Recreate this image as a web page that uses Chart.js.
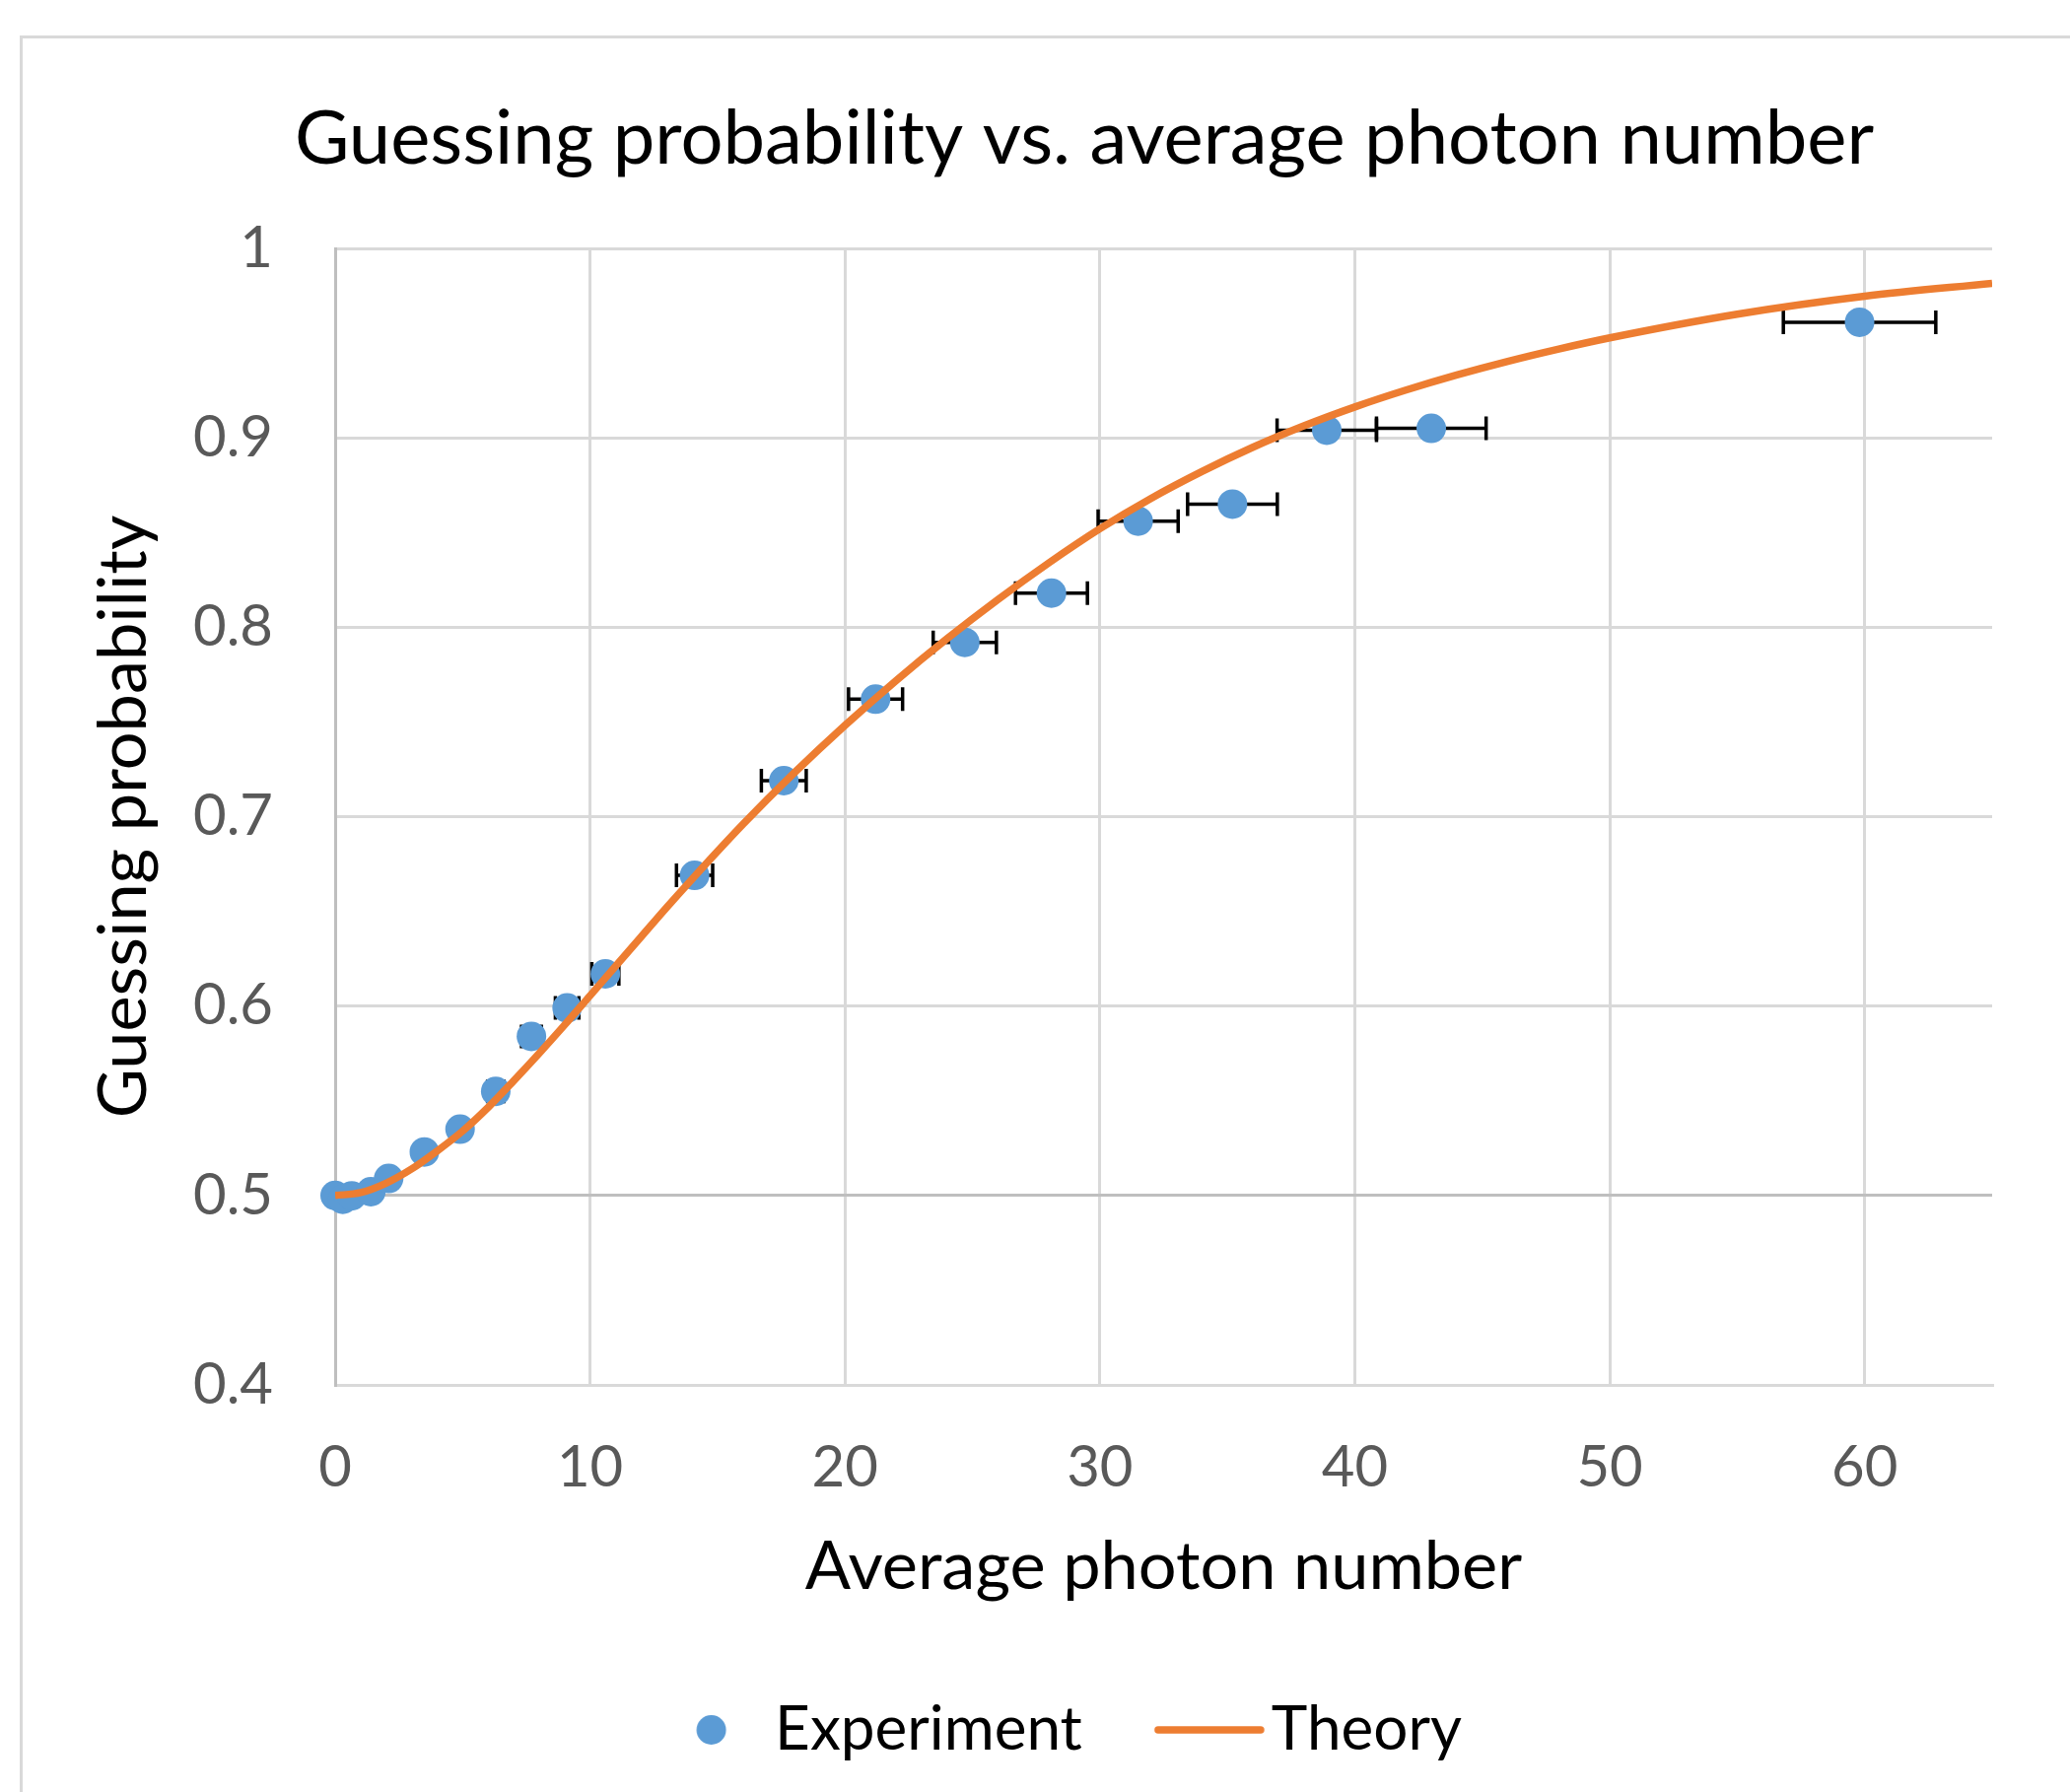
<!DOCTYPE html>
<html>
  <head>
    <script src="https://cdn.jsdelivr.net/npm/chart.js@4.4.0/dist/chart.umd.min.js"></script>
    <style>
      html, body { margin: 0; padding: 0; background: #fff; overflow: hidden; }
      #card { position: absolute; left: 20px; top: 36px; width: 3000px; height: 3000px;
              border: 3px solid #d9d9d9; box-sizing: border-box; }
      #myChart { position: absolute; left: 0; top: 0; }
    </style>
  </head>
  <body>
    <div id="card"></div>
    <canvas id="myChart" width="2100" height="1818"></canvas>
    <script>
      // experiment points
      var expX = [0, 0.3, 0.65, 1.4, 2.1, 3.5, 4.9, 6.3, 7.7, 9.1, 10.6, 14.1, 17.6, 21.2, 24.7, 28.1, 31.5, 35.2, 38.9, 43.0, 59.8];
      var expY = [0.500, 0.498, 0.4998, 0.502, 0.509, 0.523, 0.535, 0.555, 0.584, 0.599, 0.617, 0.669, 0.719, 0.762, 0.792, 0.818, 0.856, 0.865, 0.904, 0.905, 0.961];
      // horizontal error (half width of the bars)
      var expErr = [0, 0.015, 0.03, 0.07, 0.1, 0.18, 0.25, 0.32, 0.39, 0.46, 0.53, 0.71, 0.88, 1.06, 1.24, 1.41, 1.57, 1.76, 1.95, 2.15, 2.99];

      // theory curve
      var theoryX = [0, 1, 2, 3, 4, 5, 6, 7, 8, 9, 10, 11, 12, 13, 14, 16, 18, 20, 22, 24, 26, 28, 30, 32, 34, 36, 38, 40, 42, 44, 46, 48, 50, 55, 60, 65];
      var theoryY = [0.5, 0.5015, 0.5065, 0.514, 0.5235, 0.534, 0.5465, 0.5605, 0.575, 0.590, 0.6055, 0.621, 0.6365, 0.652, 0.667,
                     0.696, 0.723, 0.7482, 0.7718, 0.7939, 0.8146, 0.834, 0.852, 0.868, 0.8822, 0.895, 0.9063, 0.9163, 0.9252,
                     0.9332, 0.9404, 0.9469, 0.9528, 0.9653, 0.9748, 0.9816];

      var xTickLabels = ["0", "10", "20", "30", "40", "50", "60"];
      var yTickLabels = ["0.4", "0.5", "0.6", "0.7", "0.8", "0.9", "1"];

      var BLUE = "#5B9BD5", ORANGE = "#ED7D31";
      var GRID = "#d9d9d9", AXIS = "#bfbfbf";

      // legend markers as small canvases
      function marker(kind) {
        var c = document.createElement("canvas");
        c.width = 170; c.height = 40;
        var g = c.getContext("2d");
        if (kind === "dot") {
          g.fillStyle = BLUE;
          g.beginPath(); g.arc(70.5, 20, 15, 0, Math.PI * 2); g.fill();
        } else {
          g.strokeStyle = ORANGE; g.lineWidth = 7.5; g.lineCap = "round";
          g.beginPath(); g.moveTo(20, 20); g.lineTo(124, 20); g.stroke();
        }
        return c;
      }
      var dotMarker = marker("dot"), lineMarker = marker("line");

      var errorBars = {
        id: "errorBars",
        beforeDatasetsDraw: function(chart) {
          var ctx = chart.ctx, xs = chart.scales.x, ys = chart.scales.y;
          ctx.save();
          ctx.strokeStyle = "#000";
          ctx.lineWidth = 3.5;
          for (var i = 0; i < expX.length; i++) {
            if (!expErr[i]) continue;
            var x0 = xs.getPixelForValue(expX[i] - expErr[i]);
            var x1 = xs.getPixelForValue(expX[i] + expErr[i]);
            var py = ys.getPixelForValue(expY[i]);
            ctx.beginPath();
            ctx.moveTo(x0, py); ctx.lineTo(x1, py);
            ctx.moveTo(x0, py - 12); ctx.lineTo(x0, py + 12);
            ctx.moveTo(x1, py - 12); ctx.lineTo(x1, py + 12);
            ctx.stroke();
          }
          ctx.restore();
        }
      };

      Chart.defaults.font.family = "Lato";

      var ctx = document.getElementById("myChart");
      var myChart = new Chart(ctx, {
        type: "scatter",
        data: {
          datasets: [
            {
              label: "Experiment",
              data: expX.map(function(v, i) { return { x: v, y: expY[i] }; }),
              backgroundColor: BLUE,
              borderWidth: 0,
              pointRadius: 15,
              pointHoverRadius: 15,
              clip: false,
              order: 1
            },
            {
              label: "Theory",
              type: "line",
              data: theoryX.map(function(v, i) { return { x: v, y: theoryY[i] }; }),
              borderColor: ORANGE,
              borderWidth: 7.5,
              pointRadius: 0,
              cubicInterpolationMode: "monotone",
              fill: false,
              order: 0
            }
          ]
        },
        options: {
          responsive: false,
          animation: false,
          devicePixelRatio: 1,
          layout: { padding: { left: 179, right: 79, top: 0, bottom: 22 } },
          plugins: {
            tooltip: { enabled: false },
            title: {
              display: true,
              text: "Guessing probability vs. average photon number",
              color: "#000",
              font: { size: 76, weight: "normal" },
              padding: { top: 95.4, bottom: 65.4 }
            },
            legend: {
              position: "bottom",
              labels: {
                usePointStyle: true,
                pointStyleWidth: 38,
                padding: 123,
                color: "#000",
                font: { size: 62 },
                generateLabels: function() {
                  return [
                    { text: "Experiment", pointStyle: dotMarker, fillStyle: BLUE, strokeStyle: BLUE, lineWidth: 0, datasetIndex: 0 },
                    { text: "Theory", pointStyle: lineMarker, fillStyle: ORANGE, strokeStyle: ORANGE, lineWidth: 0, datasetIndex: 1 }
                  ];
                }
              }
            }
          },
          scales: {
            x: {
              type: "linear",
              min: 0,
              max: 65,
              afterFit: function(s) { s.height = 196; },
              ticks: {
                stepSize: 10,
                includeBounds: false,
                autoSkip: false,
                maxRotation: 0,
                padding: 49,
                color: "#595959",
                font: { size: 58 },
                callback: function(v, i) { return xTickLabels[i]; }
              },
              grid: {
                drawTicks: false,
                lineWidth: 3,
                color: function(c) { return c.tick && c.tick.value === 0 ? AXIS : GRID; }
              },
              border: { color: GRID, width: 3 },
              title: {
                display: true,
                text: "Average photon number",
                color: "#000",
                font: { size: 68.5 },
                padding: { top: 0, bottom: -30.1 }
              }
            },
            y: {
              min: 0.4,
              max: 1,
              afterFit: function(s) { s.width = 161; },
              ticks: {
                stepSize: 0.1,
                padding: 63,
                color: "#595959",
                font: { size: 58 },
                callback: function(v, i) { return yTickLabels[i]; }
              },
              grid: {
                drawTicks: false,
                lineWidth: 3,
                color: function(c) { return c.tick && Math.abs(c.tick.value - 0.5) < 1e-6 ? AXIS : GRID; }
              },
              border: { color: AXIS, width: 3 },
              title: {
                display: true,
                text: "Guessing probability",
                color: "#000",
                font: { size: 68.5 },
                padding: { top: -94.1, bottom: 0 }
              }
            }
          }
        },
        plugins: [errorBars]
      });
    </script>
  </body>
</html>
